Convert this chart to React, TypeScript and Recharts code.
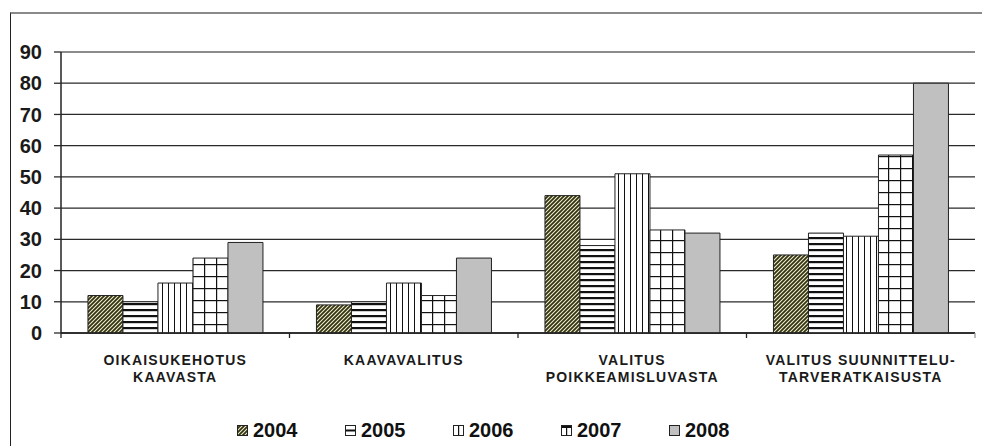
import { BarChart, Bar, XAxis, YAxis, CartesianGrid, ReferenceLine } from 'recharts';

const categories = [
  'OIKAISUKEHOTUS\nKAAVASTA',
  'KAAVAVALITUS',
  'VALITUS\nPOIKKEAMISLUVASTA',
  'VALITUS SUUNNITTELU-\nTARVERATKAISUSTA',
];
const years = ['2004', '2005', '2006', '2007', '2008'];
const values2004 = [12, 9, 44, 25];
const values2005 = [10, 10, 28, 32];
const values2006 = [16, 16, 51, 31];
const values2007 = [24, 12, 33, 57];
const values2008 = [29, 24, 32, 80];
const yTicks = [0, 10, 20, 30, 40, 50, 60, 70, 80, 90];

const series = [values2004, values2005, values2006, values2007, values2008];
const fills = ['url(#p2004)', 'url(#p2005)', 'url(#p2006)', 'url(#p2007)', '#c0c0c0'];
const swatchFills = ['url(#p2004)', 'url(#s2005)', 'url(#s2006)', 'url(#s2007)', '#c0c0c0'];

const data = categories.map((name, i) => {
  const row: Record<string, string | number> = { name };
  years.forEach((y, j) => {
    row[y] = series[j][i];
  });
  return row;
});

const FONT = '"Liberation Sans", Arial, sans-serif';

function CategoryTick(props: any) {
  const { x, y, payload, index } = props;
  const band = (typeof props.width === 'number' ? props.width : 914) / categories.length;
  const lines = String(payload.value).split('\n');
  return (
    <g>
      <line x1={x - band / 2} x2={x - band / 2} y1={y} y2={y + 5} stroke="#222" strokeWidth={1.3} />
      {index === categories.length - 1 && (
        <line x1={x + band / 2} x2={x + band / 2} y1={y} y2={y + 5} stroke="#999" strokeWidth={1.3} />
      )}
      <text
        x={x}
        y={y + 32}
        textAnchor="middle"
        fill="#1a1a1a"
        fontFamily={FONT}
        fontWeight="bold"
        fontSize={14}
        letterSpacing={1.2}
      >
        {lines.map((l, i) => (
          <tspan key={i} x={x} dy={i === 0 ? 0 : 17}>
            {l}
          </tspan>
        ))}
      </text>
    </g>
  );
}

function Patterns() {
  return (
    <defs>
      <pattern id="p2004" patternUnits="userSpaceOnUse" width={4} height={4}>
        <rect width={4} height={4} fill="#f2f1d8" />
        <path d="M-1,1 l2,-2 M0,4 l4,-4 M3,5 l2,-2" stroke="#33330f" strokeWidth={1.8} />
      </pattern>
      <pattern id="p2005" patternUnits="userSpaceOnUse" width={6} height={6}>
        <rect width={6} height={6} fill="#fff" />
        <rect y={3} width={6} height={2.2} fill="#111" />
      </pattern>
      <pattern id="p2006" patternUnits="userSpaceOnUse" width={6} height={6}>
        <rect width={6} height={6} fill="#fff" />
        <rect x={0} width={1} height={6} fill="#111" />
      </pattern>
      <pattern id="p2007" patternUnits="userSpaceOnUse" width={12} height={12}>
        <rect width={12} height={12} fill="#fff" />
        <rect x={0} width={1.2} height={12} fill="#111" />
        <rect y={0} width={12} height={1.2} fill="#111" />
      </pattern>
    </defs>
  );
}

function SwatchPatterns() {
  return (
    <svg width={0} height={0} style={{ position: 'absolute' }}>
      <defs>
        <pattern id="s2005" patternUnits="userSpaceOnUse" width={11} height={11}>
          <rect width={11} height={11} fill="#fff" />
          <rect y={4.5} width={11} height={2} fill="#111" />
        </pattern>
        <pattern id="s2006" patternUnits="userSpaceOnUse" width={11} height={11}>
          <rect width={11} height={11} fill="#fff" />
          <rect x={5} width={1.2} height={11} fill="#111" />
        </pattern>
        <pattern id="s2007" patternUnits="userSpaceOnUse" width={11} height={11}>
          <rect width={11} height={11} fill="#fff" />
          <rect x={5} width={1.2} height={11} fill="#111" />
          <rect y={0} width={11} height={3} fill="#111" />
        </pattern>
      </defs>
    </svg>
  );
}

function Swatch({ fill }: { fill: string }) {
  return (
    <svg width={11} height={11} style={{ marginRight: 5 }}>
      <rect x={0.5} y={0.5} width={10} height={10} fill={fill} stroke="#222" strokeWidth={1} />
    </svg>
  );
}

export default function App() {
  return (
    <div style={{ position: 'absolute', left: 0, top: 0, width: 982, height: 446, background: '#fff', overflow: 'hidden' }}>
      {/* outer frame */}
      <div
        style={{
          position: 'absolute',
          left: 10,
          top: 12,
          width: 990,
          height: 460,
          borderLeft: '1.5px solid #222',
          borderTop: '2px solid #8a8a8a',
        }}
      />
      <div style={{ position: 'absolute', left: 0, top: 0 }}>
        <BarChart
          width={982}
          height={446}
          data={data}
          margin={{ top: 52, right: 7, bottom: 83, left: 11 }}
          barCategoryGap="11.8%"
          barGap={0}
        >
          <Patterns />
          <CartesianGrid vertical={false} stroke="#2a2a2a" strokeWidth={1.3} />
          <XAxis
            dataKey="name"
            height={30}
            interval={0}
            tickLine={false}
            tickSize={0}
            tickMargin={0}
            axisLine={{ stroke: '#222', strokeWidth: 1.3 }}
            tick={<CategoryTick />}
          />
          <YAxis
            domain={[0, 90]}
            ticks={yTicks}
            width={50}
            interval={0}
            tickSize={7}
            tickMargin={12}
            axisLine={{ stroke: '#222', strokeWidth: 1.5 }}
            tickLine={{ stroke: '#2a2a2a', strokeWidth: 1.3 }}
            tick={{ fill: '#1a1a1a', fontSize: 20, fontWeight: 'bold', fontFamily: FONT }}
          />
          <YAxis yAxisId="right" orientation="right" width={0} tick={false} tickLine={false} axisLine={{ stroke: '#999', strokeWidth: 1.5 }} />
          <ReferenceLine y={90} stroke="#9a9a9a" strokeWidth={1.5} />
          {years.map((y, j) => (
            <Bar key={y} dataKey={y} fill={fills[j]} stroke="#222" strokeWidth={1} isAnimationActive={false} />
          ))}
        </BarChart>
      </div>
      {/* legend */}
      <SwatchPatterns />
      <div
        style={{
          position: 'absolute',
          left: 237,
          top: 419,
          display: 'flex',
          fontFamily: FONT,
          fontWeight: 'bold',
          fontSize: 20,
          color: '#111',
          lineHeight: '22px',
        }}
      >
        {years.map((y, j) => (
          <div key={y} style={{ width: 108, display: 'flex', alignItems: 'center' }}>
            <Swatch fill={swatchFills[j]} />
            <span>{y}</span>
          </div>
        ))}
      </div>
    </div>
  );
}
